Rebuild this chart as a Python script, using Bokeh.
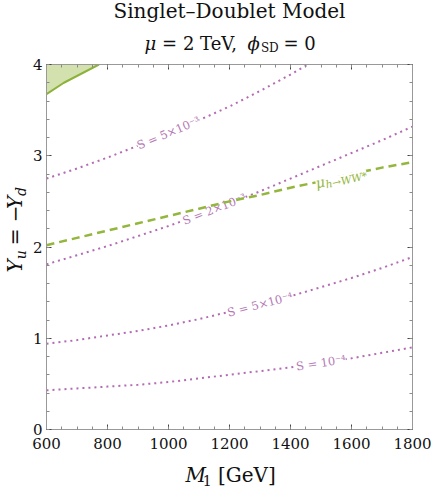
import math
import numpy as np
from bokeh.plotting import figure
from bokeh.layouts import column, row
from bokeh.models import Range1d, FixedTicker, LinearAxis
from bokeh.core.properties import value
from bokeh.embed import file_html
from bokeh.resources import INLINE

# ---------------- data ----------------
M1 = [600, 700, 800, 900, 1000, 1100, 1200, 1300, 1400, 1500, 1600, 1700, 1800]
Yu_S_1e4 = [0.43, 0.45, 0.47, 0.49, 0.52, 0.56, 0.60, 0.64, 0.68, 0.73, 0.78, 0.84, 0.90]
Yu_S_5e4 = [0.94, 0.98, 1.03, 1.08, 1.14, 1.21, 1.29, 1.37, 1.46, 1.56, 1.66, 1.77, 1.89]
Yu_S_2e3 = [1.81, 1.91, 2.01, 2.12, 2.23, 2.35, 2.48, 2.61, 2.75, 2.89, 3.03, 3.17, 3.32]
M1_S_5e3 = [600, 700, 800, 900, 1000, 1100, 1200, 1300, 1400, 1500]
Yu_S_5e3 = [2.75, 2.86, 2.98, 3.11, 3.25, 3.39, 3.54, 3.71, 3.89, 4.08]
Yu_muWW = [2.02, 2.10, 2.18, 2.26, 2.34, 2.42, 2.50, 2.57, 2.65, 2.72, 2.80, 2.87, 2.93]

excl_M1 = [600, 657, 772]
excl_Yu = [3.675, 3.80, 4.0]

curve_labels = ["S = 10⁻⁴", "S = 5×10⁻⁴", "S = 2×10⁻³", "S = 5×10⁻³"]
curve_label_M1 = [1500, 1300, 1150, 1000]

x_ticks = [600, 800, 1000, 1200, 1400, 1600, 1800]
x_minor = list(range(600, 1801, 50))
y_ticks = [0, 1, 2, 3, 4]
y_minor = [round(0.2 * i, 1) for i in range(21)]

title1 = "Singlet–Doublet Model"

# ---------------- styling / geometry ----------------
FONT = "DejaVu Serif"
PURPLE = "#b36bb3"
PURPLE_TXT = "#b478b4"
GREEN = "#93b63c"
GREEN_FILL = "#d2e1ae"
TXT = "#111111"

PAGE_W, PAGE_H = 436, 488
TOP_H = 55
LEFT_W = 28
MAIN_W = PAGE_W - LEFT_W
BL, BR, BT, BB = 18, 24, 9, 28
FRAME_H = 365
MAIN_H = BT + FRAME_H + BB
BOT_H = PAGE_H - TOP_H - MAIN_H

# frame in page pixels
FX0 = LEFT_W + BL
FX1 = LEFT_W + MAIN_W - BR
FY0 = TOP_H + BT
FY1 = FY0 + FRAME_H
XMIN, XMAX, YMIN, YMAX = 600, 1800, 0, 4
PX_PER_X = (FX1 - FX0) / (XMAX - XMIN)
PX_PER_Y = (FY1 - FY0) / (YMAX - YMIN)


def X(px):
    return XMIN + (px - FX0) / PX_PER_X


def Y(py):
    return YMIN + (FY1 - py) / PX_PER_Y


def PX(x):
    return FX0 + (x - XMIN) * PX_PER_X


def PY(y):
    return FY1 - (y - YMIN) * PX_PER_Y


# ---------------- main plot ----------------
p = figure(width=MAIN_W, height=MAIN_H, x_range=Range1d(XMIN, XMAX), y_range=Range1d(YMIN, YMAX),
           output_backend="svg", toolbar_location=None,
           min_border_left=BL, min_border_right=BR, min_border_top=BT, min_border_bottom=BB)
p.title_location = None
p.grid.visible = False
p.outline_line_color = "#999999"
p.background_fill_color = "white"
p.border_fill_color = "white"

xt = FixedTicker(ticks=x_ticks, minor_ticks=x_minor)
yt = FixedTicker(ticks=y_ticks, minor_ticks=y_minor)
bottom_ax = p.below[0]
left_ax = p.left[0]
bottom_ax.ticker = xt
left_ax.ticker = yt
top_ax = LinearAxis(ticker=xt)
right_ax = LinearAxis(ticker=yt)
p.add_layout(top_ax, "above")
p.add_layout(right_ax, "right")

for ax in [bottom_ax, left_ax, top_ax, right_ax]:
    ax.axis_line_color = "#999999"
    ax.major_tick_in = 5
    ax.major_tick_out = 0
    ax.minor_tick_in = 3
    ax.minor_tick_out = 0
    ax.major_tick_line_color = "#444444"
    ax.minor_tick_line_color = "#8a8a8a"
    ax.major_label_text_font = FONT
    ax.major_label_text_font_size = "15px"
    ax.major_label_text_color = TXT
for ax in [top_ax, right_ax]:
    ax.major_label_text_font_size = "0px"
    ax.major_label_text_color = None
    ax.major_label_standoff = 0
bottom_ax.major_label_standoff = 8
left_ax.major_label_standoff = 4

# excluded region
p.varea(x=excl_M1, y1=excl_Yu, y2=[YMAX] * len(excl_M1), fill_color=GREEN_FILL)
p.line(excl_M1, excl_Yu, line_color="#8cb23a", line_width=2)

# contours of S
curves = [(M1, Yu_S_1e4), (M1, Yu_S_5e4), (M1, Yu_S_2e3), (M1_S_5e3, Yu_S_5e3)]
for xs, ys in curves:
    p.line(xs, ys, line_color=PURPLE, line_width=2, line_dash="2 4")

# labels of S contours, placed on their curves
lab_y, lab_a = [], []
for (xs, ys), m in zip(curves, curve_label_M1):
    yv = float(np.interp(m, xs, ys))
    slope = (np.interp(m + 60, xs, ys) - np.interp(m - 60, xs, ys)) / 120.0
    lab_y.append(yv)
    lab_a.append(math.atan(slope * PX_PER_Y / PX_PER_X))
p.text(x=curve_label_M1, y=lab_y, text=curve_labels, angle=lab_a,
       text_font=value(FONT), text_font_size="11.5px", text_color=PURPLE_TXT,
       text_align="center", text_baseline="middle",
       background_fill_color="white")

# mu_{h->WW*} contour
p.line(M1, Yu_muWW, line_color=GREEN, line_width=2.5, line_dash="8 5")

m0 = 1482
a = math.atan((np.interp(m0 + 60, M1, Yu_muWW) - np.interp(m0 - 60, M1, Yu_muWW)) / 120.0
              * PX_PER_Y / PX_PER_X)
px0, py0 = PX(m0), PY(float(np.interp(m0, M1, Yu_muWW)))


def along(adv, down):
    return (X(px0 + adv * math.cos(a) + down * math.sin(a)),
            Y(py0 - adv * math.sin(a) + down * math.cos(a)))


mx, my = along(0, 1)
p.text(x=[mx], y=[my], text=["μ"], angle=a, text_font=value(FONT), text_font_style="italic",
       text_font_size="14px", text_color=GREEN, text_align="left", text_baseline="middle",
       background_fill_color="white")
sx, sy = along(9.5, 4)
p.text(x=[sx], y=[sy], text=["h→WW*"], angle=a, text_font=value(FONT), text_font_style="italic",
       text_font_size="10.5px", text_color=GREEN, text_align="left", text_baseline="middle",
       background_fill_color="white")


# ---------------- text canvases around the plot ----------------
def canvas(w, h):
    f = figure(width=w, height=h, x_range=Range1d(0, w), y_range=Range1d(0, h),
               output_backend="svg", toolbar_location=None,
               x_axis_location=None, y_axis_location=None,
               min_border=0, min_border_left=0, min_border_right=0,
               min_border_top=0, min_border_bottom=0)
    f.title_location = None
    f.grid.visible = False
    f.outline_line_color = None
    f.background_fill_color = "white"
    f.border_fill_color = "white"
    return f


top_fig = canvas(PAGE_W, TOP_H)
left_fig = canvas(LEFT_W, MAIN_H)
bot_fig = canvas(PAGE_W, BOT_H)


def put(fig, ox, obottom, px, py, text, size, style="normal", angle=0.0, align="left"):
    # (px, py): start of the text baseline in page pixels; anchor at the text's middle
    mid = 0.35 * size
    cx = px - ox - mid * math.sin(angle)
    cy = obottom - py + mid * math.cos(angle)
    fig.text(x=[cx], y=[cy], text=[text], angle=angle,
             text_font=value(FONT), text_font_size=f"{size}px", text_font_style=style,
             text_color=TXT, text_align=align, text_baseline="middle")


# title lines (page pixel positions)
put(top_fig, 0, TOP_H, 229, 17.5, title1, 20, align="center")
put(top_fig, 0, TOP_H, 144, 49.5, "μ", 18, "italic")
put(top_fig, 0, TOP_H, 161.6, 49.5, "= 2 TeV,", 18)
put(top_fig, 0, TOP_H, 246.9, 49.5, "ϕ", 18, "italic")
put(top_fig, 0, TOP_H, 260.4, 52, "SD", 12)
put(top_fig, 0, TOP_H, 283.0, 49.5, "= 0", 18)

# y label: Y_u = -Y_d
r = math.pi / 2
LB = TOP_H + MAIN_H
put(left_fig, 0, LB, 21, 284, "Y", 20, "italic", r)
put(left_fig, 0, LB, 25, 269.6, "u", 14, "italic", r)
put(left_fig, 0, LB, 21, 254.2, "= −", 20, "normal", r)
put(left_fig, 0, LB, 21, 214.2, "Y", 20, "italic", r)
put(left_fig, 0, LB, 25, 199.8, "d", 14, "italic", r)

# x label: M_1 [GeV]
put(bot_fig, 0, PAGE_H, 185, 481, "M", 20, "italic")
put(bot_fig, 0, PAGE_H, 202.2, 485, "1", 14)
put(bot_fig, 0, PAGE_H, 217.5, 481, "[GeV]", 20)

layout = column(top_fig, row(left_fig, p, spacing=0), bot_fig, spacing=0)
open("out.html", "w").write(file_html(layout, INLINE))
